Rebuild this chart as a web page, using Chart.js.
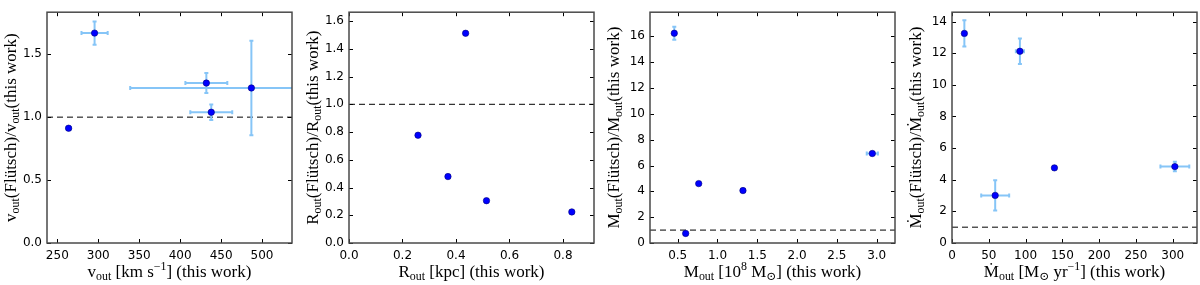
<!DOCTYPE html>
<html><head><meta charset="utf-8">
<script src="https://cdn.jsdelivr.net/npm/chart.js@4/dist/chart.umd.min.js"></script>
<style>
html,body{margin:0;padding:0;background:#fff;width:1200px;height:285px;overflow:hidden;}
.p{position:absolute;top:0;width:300px;height:285px;}
canvas{display:block;}
</style></head><body>
<div class="p" style="left:0px"><canvas id="c0" width="300" height="285"></canvas></div>
<div class="p" style="left:302px"><canvas id="c1" width="300" height="285"></canvas></div>
<div class="p" style="left:603px"><canvas id="c2" width="300" height="285"></canvas></div>
<div class="p" style="left:905px"><canvas id="c3" width="300" height="285"></canvas></div>
<script>
// ---------- data ----------
// Panel 1: outflow velocity
const vOutThis      = [263.8, 295.5, 432.0, 438.0, 487.0];
const vOutRatio     = [0.912, 1.668, 1.271, 1.039, 1.232];
const vOutThisErr   = [2.8, 16, 25.6, 25.6, 148];
const vOutRatioErr  = [0.012, 0.092, 0.079, 0.061, 0.376];
const vXTicks = [250, 300, 350, 400, 450, 500];
const vYTicks = [0.0, 0.5, 1.0, 1.5];

// Panel 2: outflow radius
const rOutThis      = [0.258, 0.370, 0.436, 0.514, 0.833];
const rOutRatio     = [0.777, 0.479, 1.512, 0.305, 0.224];
const rOutThisErr   = [0, 0, 0, 0, 0];
const rOutRatioErr  = [0, 0, 0, 0, 0];
const rXTicks = [0.0, 0.2, 0.4, 0.6, 0.8];
const rYTicks = [0.0, 0.2, 0.4, 0.6, 0.8, 1.0, 1.2, 1.4, 1.6];

// Panel 3: outflow mass
const mOutThis      = [0.457, 0.600, 0.764, 1.320, 2.945];
const mOutRatio     = [16.24, 0.74, 4.60, 4.06, 6.93];
const mOutThisErr   = [0.01, 0.01, 0.01, 0.02, 0.07];
const mOutRatioErr  = [0.50, 0.10, 0.10, 0.06, 0.12];
const mXTicks = [0.5, 1.0, 1.5, 2.0, 2.5, 3.0];
const mYTicks = [0, 2, 4, 6, 8, 10, 12, 14, 16];

// Panel 4: mass outflow rate
const mdotOutThis     = [16.8, 58.7, 92.3, 139.2, 302.9];
const mdotOutRatio    = [13.25, 3.01, 12.12, 4.75, 4.83];
const mdotOutThisErr  = [1.5, 19, 5.5, 2, 19.6];
const mdotOutRatioErr = [0.83, 0.96, 0.80, 0.10, 0.30];
const mdXTicks = [0, 50, 100, 150, 200, 250, 300];
const mdYTicks = [0, 2, 4, 6, 8, 10, 12, 14];

const refLevel = 1.0;

// ---------- drawing helpers ----------
const SERIF = '"Liberation Serif","DejaVu Serif",serif';
const TITLE_SIZE = 17;

function measureRich(ctx, segs, size) {
  let w = 0;
  for (const s of segs) {
    const fs = s[1] ? size * 0.7 : size;
    ctx.font = fs + 'px ' + SERIF;
    w += ctx.measureText(s[0]).width;
  }
  return w;
}
function drawRich(ctx, segs, size, cx, cy) {
  const w = measureRich(ctx, segs, size);
  let x = cx - w / 2;
  ctx.textBaseline = 'middle';
  ctx.textAlign = 'left';
  ctx.fillStyle = '#000';
  for (const s of segs) {
    const fs = s[1] ? size * 0.7 : size;
    let dy = 0;
    if (s[1] === 'sub') dy = size * 0.25;
    if (s[1] === 'sup') dy = -size * 0.38;
    ctx.font = fs + 'px ' + SERIF;
    ctx.fillText(s[0], x, cy + dy);
    x += ctx.measureText(s[0]).width;
  }
}

const decor = {
  id: 'decor',
  beforeDatasetsDraw(chart, args, o) {
    const ctx = chart.ctx, a = chart.chartArea;
    const xs = chart.scales.x, ys = chart.scales.y;
    ctx.save();
    ctx.beginPath();
    ctx.rect(a.left, a.top, a.right - a.left, a.bottom - a.top);
    ctx.clip();
    // reference dashed line
    const yr = ys.getPixelForValue(refLevel);
    ctx.strokeStyle = '#000';
    ctx.lineWidth = 1;
    ctx.setLineDash([6, 4]);
    ctx.beginPath();
    ctx.moveTo(a.left, yr); ctx.lineTo(a.right, yr);
    ctx.stroke();
    ctx.setLineDash([]);
    // error bars
    ctx.strokeStyle = '#86c5f7';
    ctx.lineWidth = 2;
    const cap = 2;
    o.xv.forEach((xv, i) => {
      const yv = o.yv[i];
      const px = xs.getPixelForValue(xv), py = ys.getPixelForValue(yv);
      const ex = o.xe[i], ey = o.ye[i];
      if (ex > 0) {
        const x1 = xs.getPixelForValue(xv - ex), x2 = xs.getPixelForValue(xv + ex);
        ctx.beginPath();
        ctx.moveTo(x1, py); ctx.lineTo(x2, py);
        ctx.moveTo(x1, py - cap); ctx.lineTo(x1, py + cap);
        ctx.moveTo(x2, py - cap); ctx.lineTo(x2, py + cap);
        ctx.stroke();
      }
      if (ey > 0) {
        const y1 = ys.getPixelForValue(yv - ey), y2 = ys.getPixelForValue(yv + ey);
        ctx.beginPath();
        ctx.moveTo(px, y1); ctx.lineTo(px, y2);
        ctx.moveTo(px - cap, y1); ctx.lineTo(px + cap, y1);
        ctx.moveTo(px - cap, y2); ctx.lineTo(px + cap, y2);
        ctx.stroke();
      }
    });
    ctx.restore();
  },
  afterDraw(chart, args, o) {
    const ctx = chart.ctx, a = chart.chartArea;
    const xs = chart.scales.x, ys = chart.scales.y;
    ctx.save();
    // inward ticks on all four sides
    ctx.strokeStyle = '#000';
    ctx.lineWidth = 1;
    const tl = 4;
    ctx.beginPath();
    xs.ticks.forEach(t => {
      const x = Math.round(xs.getPixelForValue(t.value)) + 0.5;
      ctx.moveTo(x, a.bottom); ctx.lineTo(x, a.bottom - tl);
      ctx.moveTo(x, a.top); ctx.lineTo(x, a.top + tl);
    });
    ys.ticks.forEach(t => {
      const y = Math.round(ys.getPixelForValue(t.value)) + 0.5;
      ctx.moveTo(a.left, y); ctx.lineTo(a.left + tl, y);
      ctx.moveTo(a.right, y); ctx.lineTo(a.right - tl, y);
    });
    ctx.stroke();
    // frame
    ctx.strokeStyle = '#4a4a4a';
    ctx.lineWidth = 1.5;
    ctx.strokeRect(a.left, a.top, a.right - a.left, a.bottom - a.top);
    // axis titles
    drawRich(ctx, o.xTitle, TITLE_SIZE, (a.left + a.right) / 2, 273);
    ctx.translate(12, (a.top + a.bottom) / 2);
    ctx.rotate(-Math.PI / 2);
    drawRich(ctx, o.yTitle, TITLE_SIZE, 0, 0);
    ctx.restore();
  }
};

const tickFont = { family: '"DejaVu Sans", sans-serif', size: 12 };

function makePanel(id, xv, yv, xe, ye, xTicks, yTicks, xRange, yRange, xDec, yDec, xTitle, yTitle) {
  new Chart(document.getElementById(id), {
    type: 'scatter',
    data: { datasets: [{
      data: xv.map((x, i) => ({ x: x, y: yv[i] })),
      pointRadius: 3.2, pointHoverRadius: 3.2,
      backgroundColor: '#0000ff', borderColor: '#00007a', borderWidth: 0.6
    }] },
    options: {
      responsive: false, animation: false, events: [],
      layout: { padding: { top: 3, right: 8, left: 0, bottom: 0 } },
      plugins: {
        legend: { display: false }, tooltip: { enabled: false },
        decor: { xv, yv, xe, ye, xTitle, yTitle }
      },
      scales: {
        x: {
          type: 'linear', min: xRange[0], max: xRange[1],
          grid: { display: false, drawTicks: false }, border: { display: false },
          ticks: { includeBounds: false, padding: 6, font: tickFont, color: '#000',
                   maxRotation: 0, autoSkip: false, callback: v => Number(v).toFixed(xDec) },
          afterBuildTicks: s => { s.ticks = xTicks.map(v => ({ value: v })); },
          afterFit: s => { s.height = 42; }
        },
        y: {
          type: 'linear', min: yRange[0], max: yRange[1],
          grid: { display: false, drawTicks: false }, border: { display: false },
          ticks: { includeBounds: false, padding: 5, font: tickFont, color: '#000',
                   autoSkip: false, callback: v => Number(v).toFixed(yDec) },
          afterBuildTicks: s => { s.ticks = yTicks.map(v => ({ value: v })); },
          afterFit: s => { s.width = 47; }
        }
      }
    },
    plugins: [decor]
  });
}

makePanel('c0', vOutThis, vOutRatio, vOutThisErr, vOutRatioErr, vXTicks, vYTicks,
  [237.4, 536.6], [0, 1.834], 0, 1,
  [['v',''],['out','sub'],[' [km s',''],['\u22121','sup'],['] (this work)','']],
  [['v',''],['out','sub'],['(Fl\u00fctsch)/v',''],['out','sub'],['(this work)','']]);

makePanel('c1', rOutThis, rOutRatio, rOutThisErr, rOutRatioErr, rXTicks, rYTicks,
  [0, 0.916], [0, 1.664], 1, 1,
  [['R',''],['out','sub'],[' [kpc] (this work)','']],
  [['R',''],['out','sub'],['(Fl\u00fctsch)/R',''],['out','sub'],['(this work)','']]);

makePanel('c2', mOutThis, mOutRatio, mOutThisErr, mOutRatioErr, mXTicks, mYTicks,
  [0.152, 3.23], [0, 17.87], 1, 0,
  [['M',''],['out','sub'],[' [10',''],['8','sup'],[' M',''],['\u2299','sub'],['] (this work)','']],
  [['M',''],['out','sub'],['(Fl\u00fctsch)/M',''],['out','sub'],['(this work)','']]);

makePanel('c3', mdotOutThis, mdotOutRatio, mdotOutThisErr, mdotOutRatioErr, mdXTicks, mdYTicks,
  [0, 333], [0, 14.59], 0, 0,
  [['\u1E40',''],['out','sub'],[' [M',''],['\u2299','sub'],[' yr',''],['\u22121','sup'],['] (this work)','']],
  [['\u1E40',''],['out','sub'],['(Fl\u00fctsch)/\u1E40',''],['out','sub'],['(this work)','']]);
</script>
</body></html>
